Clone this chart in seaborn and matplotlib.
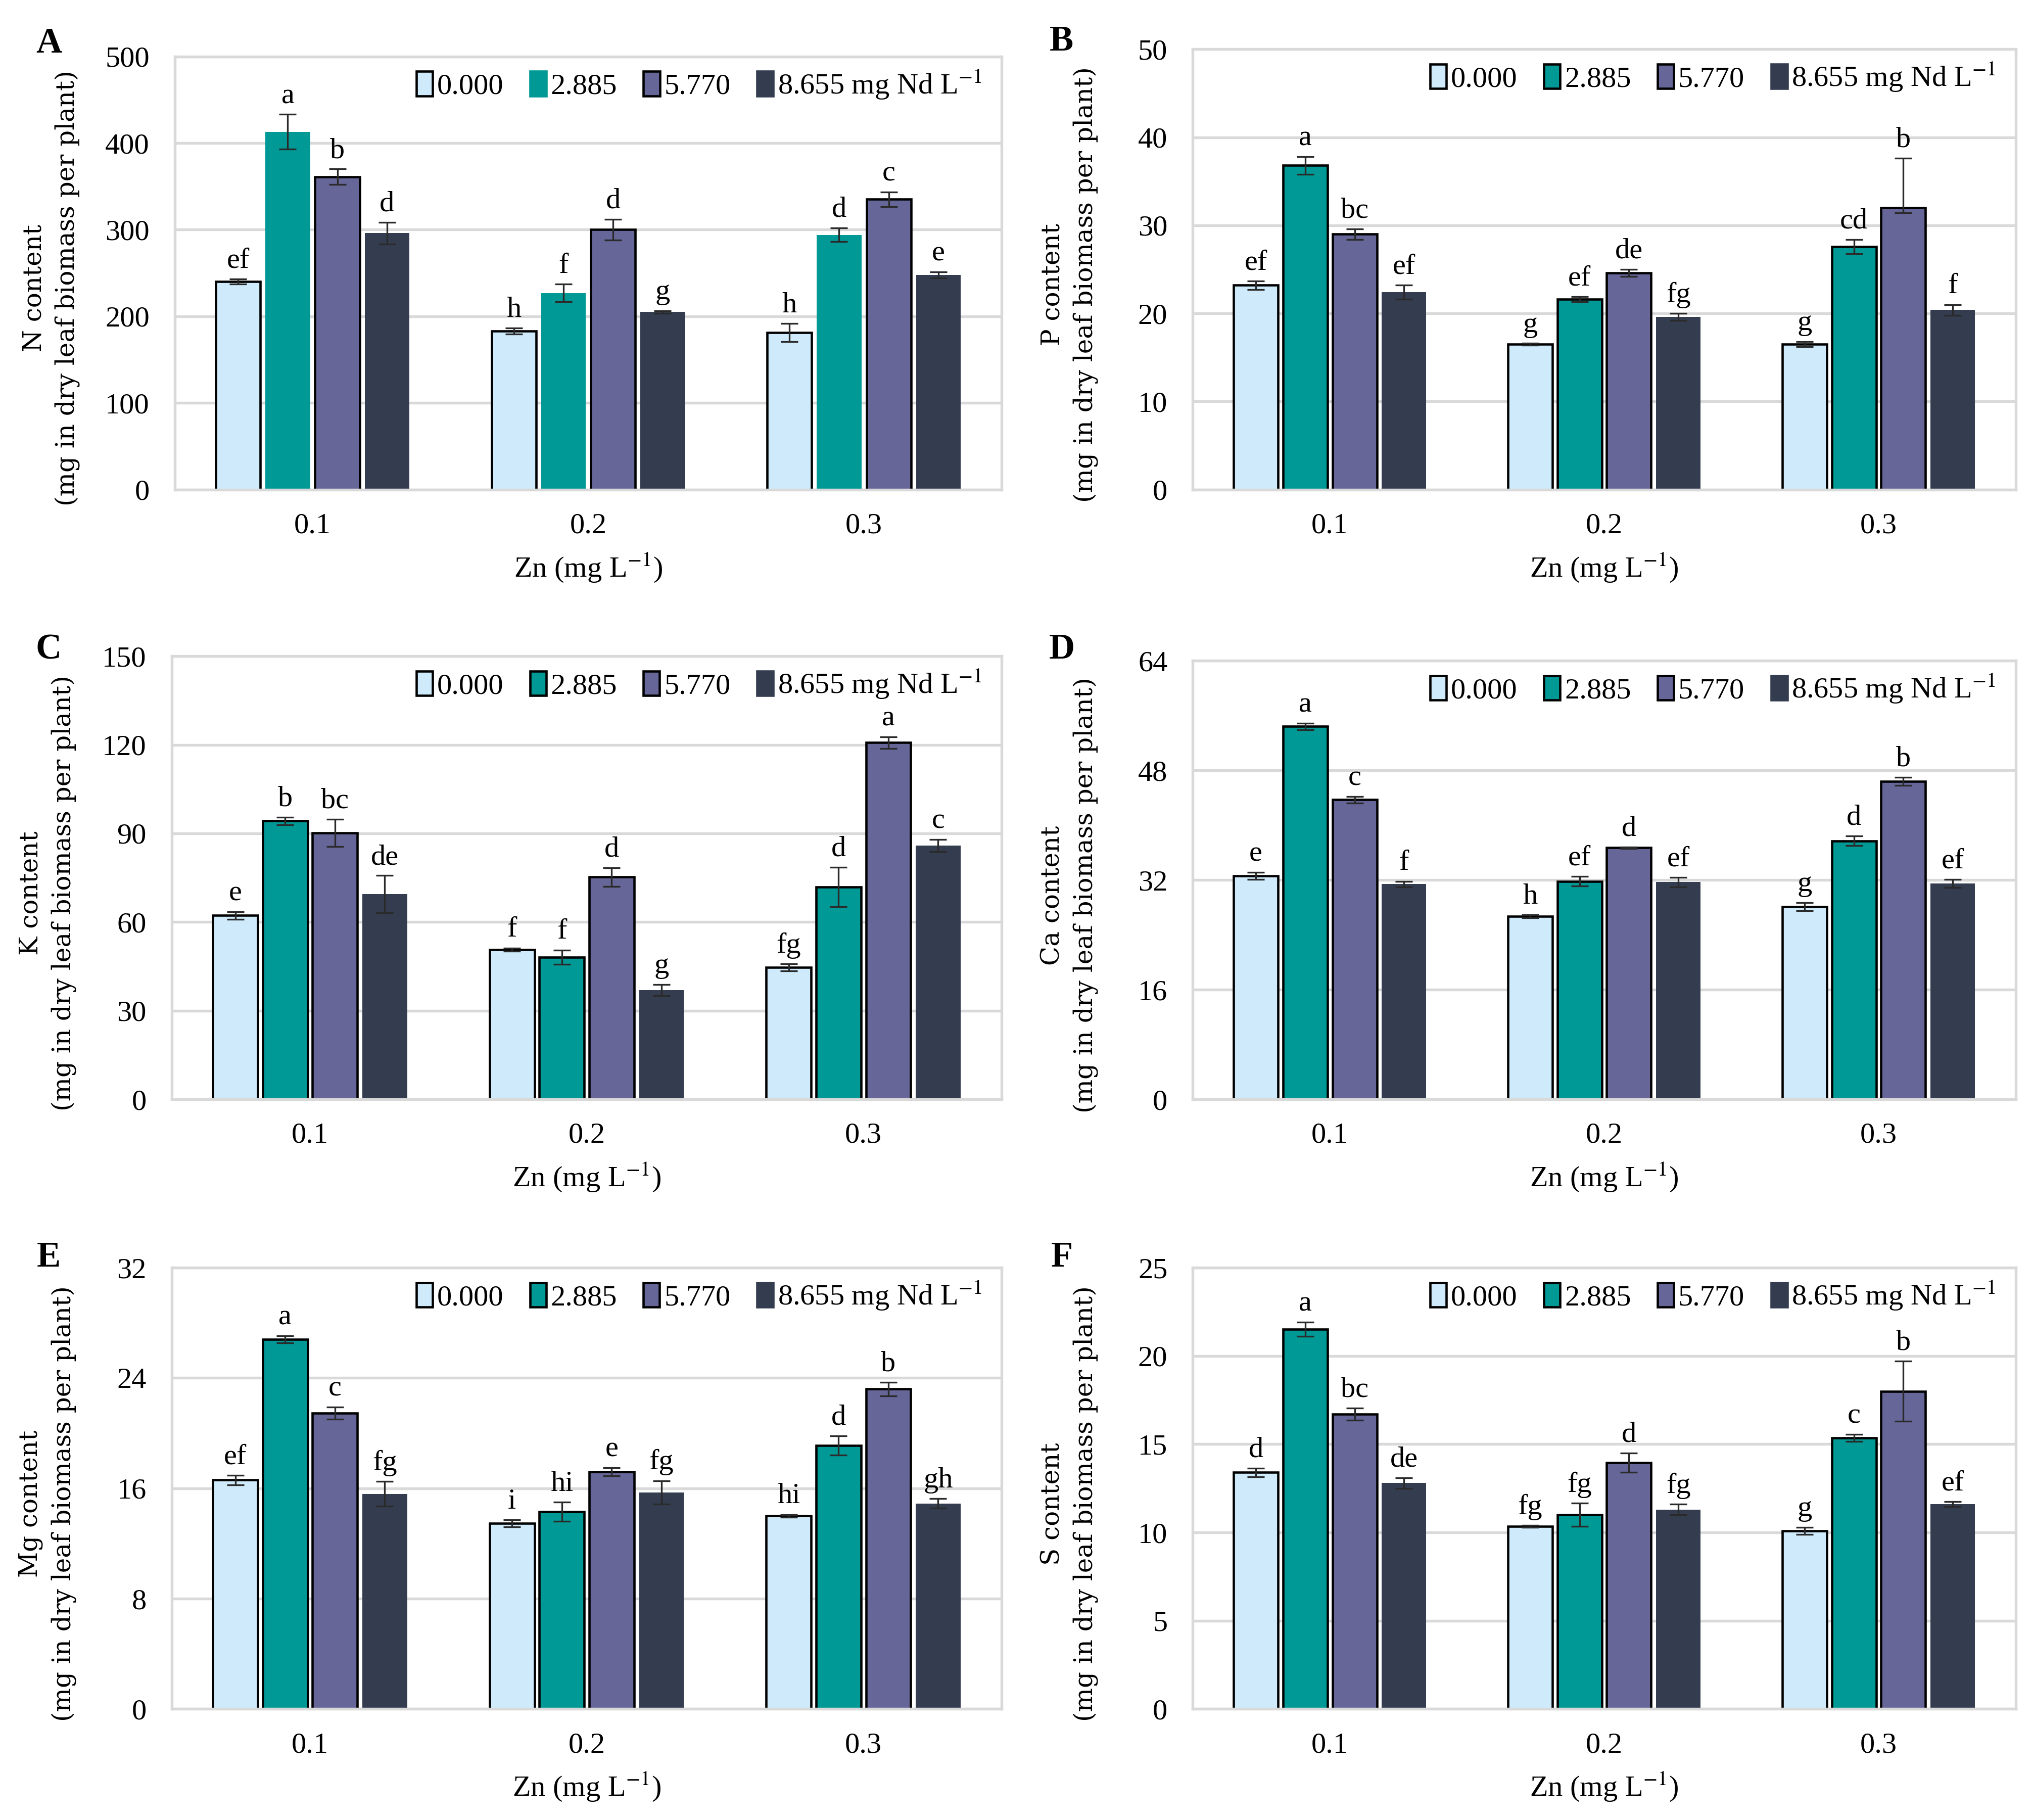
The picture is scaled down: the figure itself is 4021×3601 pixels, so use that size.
import numpy as np
import pandas as pd
import matplotlib
matplotlib.use("Agg")
import matplotlib.pyplot as plt
from matplotlib.patches import Patch
import seaborn as sns

# groups / series
zn_levels = ['0.1', '0.2', '0.3']
nd_levels = ['0.000', '2.885', '5.770', '8.655']
nd_labels = ['0.000', '2.885', '5.770', '8.655 mg Nd L$^{-1}$']
nd_colors = ['#CFEBFB', '#009995', '#666699', '#343D50']

# N content (panel A), rows = Zn level, columns = Nd level
n_mean = [[240, 413, 361, 296], [183, 227, 300, 205], [181, 294, 335, 248]]
n_err = [[3, 20, 9, 12.5], [3.5, 10, 12, 1.5], [10.5, 8, 8.5, 3.5]]
n_let = [['ef', 'a', 'b', 'd'], ['h', 'f', 'd', 'g'], ['h', 'd', 'c', 'e']]

# P content (panel B)
p_mean = [[23.2, 36.8, 29.0, 22.4], [16.5, 21.6, 24.6, 19.6], [16.5, 27.6, 32.0, 20.4]]
p_err = [[0.5, 1.0, 0.6, 0.8], [0.1, 0.3, 0.4, 0.4], [0.3, 0.8, 5.6, 0.6]]
p_err_low = [[0.5, 1.0, 0.6, 0.8], [0.1, 0.3, 0.4, 0.4], [0.3, 0.8, 0.6, 0.6]]
p_let = [['ef', 'a', 'bc', 'ef'], ['g', 'ef', 'de', 'fg'], ['g', 'cd', 'b', 'f']]

# K content (panel C)
k_mean = [[62.2, 94.2, 90.2, 69.4], [50.7, 48.1, 75.2, 37.0], [44.6, 71.9, 120.7, 85.9]]
k_err = [[1.3, 1.3, 4.6, 6.3], [0.5, 2.4, 3.2, 1.9], [1.2, 6.7, 2.0, 2.0]]
k_let = [['e', 'b', 'bc', 'de'], ['f', 'f', 'd', 'g'], ['fg', 'd', 'a', 'c']]

# Ca content (panel D)
ca_mean = [[32.6, 54.4, 43.7, 31.4], [26.7, 31.8, 36.7, 31.7], [28.1, 37.7, 46.4, 31.5]]
ca_err = [[0.5, 0.5, 0.5, 0.4], [0.2, 0.7, 0.1, 0.7], [0.6, 0.7, 0.6, 0.6]]
ca_let = [['e', 'a', 'c', 'f'], ['h', 'ef', 'd', 'ef'], ['g', 'd', 'b', 'ef']]

# Mg content (panel E)
mg_mean = [[16.6, 26.8, 21.45, 15.6], [13.45, 14.3, 17.2, 15.7], [14.0, 19.1, 23.2, 14.9]]
mg_err = [[0.35, 0.25, 0.45, 0.9], [0.25, 0.7, 0.3, 0.85], [0.1, 0.7, 0.5, 0.35]]
mg_let = [['ef', 'a', 'c', 'fg'], ['i', 'hi', 'e', 'fg'], ['hi', 'd', 'b', 'gh']]

# S content (panel F)
s_mean = [[13.4, 21.5, 16.7, 12.8], [10.35, 11.0, 13.95, 11.3], [10.1, 15.35, 18.0, 11.6]]
s_err = [[0.25, 0.4, 0.35, 0.3], [0.05, 0.65, 0.55, 0.3], [0.2, 0.2, 1.7, 0.15]]
s_let = [['d', 'a', 'bc', 'de'], ['fg', 'fg', 'd', 'fg'], ['g', 'c', 'b', 'ef']]

sns.set_style('white')
plt.rcParams['font.family'] = ['Liberation Serif', 'DejaVu Serif']
plt.rcParams['mathtext.fontset'] = 'stix'
for key in ['text.color', 'axes.labelcolor', 'xtick.color', 'ytick.color']:
    plt.rcParams[key] = 'black'

fig = plt.figure(figsize=(4021 / 300, 3601 / 300), dpi=300)

grid_c = '#D9D9D9'


def panel(rect, letter_pos, letter, means, errs, lets, ymax, step, elem,
          err_low=None, teal_edge=True):
    ax = fig.add_axes(rect)
    rows = []
    for i, z in enumerate(zn_levels):
        for j, n in enumerate(nd_levels):
            rows.append({'zn': z, 'nd': n, 'val': means[i][j]})
    df = pd.DataFrame(rows)
    sns.barplot(data=df, x='zn', y='val', hue='nd', order=zn_levels,
                hue_order=nd_levels, palette=nd_colors, width=0.72, gap=0.1,
                errorbar=None, legend=False, saturation=1, ax=ax, zorder=2)

    edged = [True, teal_edge, True, False]
    bar_conts = list(ax.containers)
    for j, cont in enumerate(bar_conts):
        for bar in cont.patches:
            xc = bar.get_x() + bar.get_width() / 2
            i = int(round(xc))
            if edged[j]:
                bar.set_edgecolor('black')
                bar.set_linewidth(1.1)
            else:
                bar.set_edgecolor(nd_colors[j])
                bar.set_linewidth(0)
            hi = errs[i][j]
            lo = err_low[i][j] if err_low is not None else hi
            ax.errorbar(xc, means[i][j], yerr=[[lo], [hi]], fmt='none',
                        ecolor='#2a2a2a', elinewidth=0.8, capsize=4,
                        capthick=0.8, zorder=3)
            ax.annotate(lets[i][j], (xc, means[i][j] + hi), xytext=(0, 2.5),
                        textcoords='offset points', ha='center', va='bottom',
                        fontsize=14)

    ax.set_ylim(0, ymax)
    ax.set_yticks(np.arange(0, ymax + step / 2, step))
    ax.set_xlim(-0.5, 2.5)
    ax.yaxis.grid(True, color=grid_c, lw=1.3)
    ax.set_axisbelow(True)
    for sp in ax.spines.values():
        sp.set_visible(True)
        sp.set_color(grid_c)
        sp.set_linewidth(1.3)
    ax.tick_params(length=0, labelsize=14, pad=12)
    ax.tick_params(axis='x', pad=11)
    ax.set_xlabel('Zn (mg L$^{-1}$)', fontsize=14, labelpad=6)
    ax.set_ylabel(elem + ' content\n(mg in dry leaf biomass per plant)',
                  fontsize=12, family='DejaVu Serif', linespacing=1.4)
    ax.yaxis.set_label_coords(-0.115, 0.465)

    handles = [Patch(facecolor=c, edgecolor='black' if e else c, lw=1.1)
               for c, e in zip(nd_colors, edged)]
    ax.legend(handles, nd_labels, ncol=4, loc='upper right',
              bbox_to_anchor=(0.99, 1.0), frameon=False, fontsize=14,
              handlelength=0.55, handleheight=0.9, handletextpad=0.15,
              columnspacing=0.9, borderaxespad=0.3, borderpad=0.1)
    fig.text(letter_pos[0], letter_pos[1], letter, fontsize=17,
             fontweight='bold', ha='center', va='center')
    return ax


panel([0.086, 0.731, 0.407, 0.238], (0.024, 0.976), 'A', n_mean, n_err, n_let,
      500, 100, 'N', teal_edge=False)
panel([0.587, 0.731, 0.405, 0.242], (0.5225, 0.977), 'B', p_mean, p_err, p_let,
      50, 10, 'P', err_low=p_err_low)
panel([0.0845, 0.396, 0.4085, 0.2435], (0.024, 0.643), 'C', k_mean, k_err, k_let,
      150, 30, 'K')
panel([0.587, 0.396, 0.405, 0.241], (0.5225, 0.643), 'D', ca_mean, ca_err, ca_let,
      64, 16, 'Ca')
panel([0.0845, 0.061, 0.4085, 0.2425], (0.024, 0.309), 'E', mg_mean, mg_err, mg_let,
      32, 8, 'Mg')
panel([0.587, 0.061, 0.405, 0.2425], (0.5225, 0.309), 'F', s_mean, s_err, s_let,
      25, 5, 'S')

fig.savefig('out.png', dpi=300, facecolor='white')
